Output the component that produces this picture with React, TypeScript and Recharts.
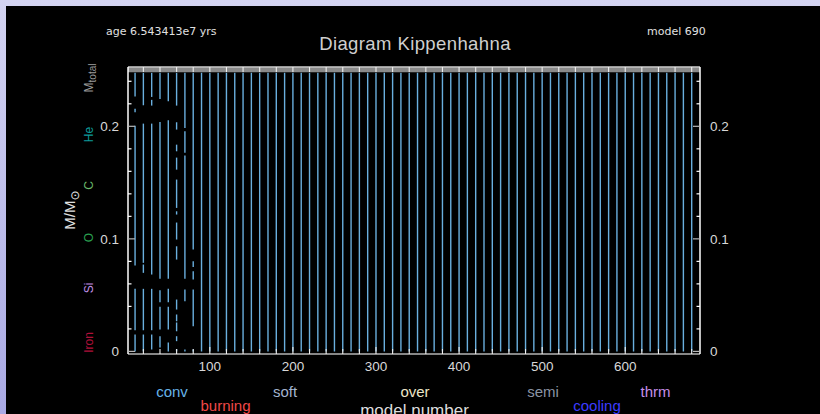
import React from 'react';
import { ComposedChart, XAxis, YAxis, Line, ReferenceLine } from 'recharts';

// model numbers of the convective columns
const modelNumbers = [
	10, 20, 30, 40, 50, 60, 70, 80, 90, 100, 110, 120, 130, 140, 150, 160, 170,
	180, 190, 200, 210, 220, 230, 240, 250, 260, 270, 280, 290, 300, 310, 320,
	330, 340, 350, 360, 370, 380, 390, 400, 410, 420, 430, 440, 450, 460, 470,
	480, 490, 500, 510, 520, 530, 540, 550, 560, 570, 580, 590, 600, 610, 620,
	630, 640, 650, 660, 670, 680,
];

const xTicks = [
	20, 40, 60, 80, 100, 120, 140, 160, 180, 200, 220, 240, 260, 280, 300, 320,
	340, 360, 380, 400, 420, 440, 460, 480, 500, 520, 540, 560, 580, 600, 620,
	640, 660, 680,
];
const yTicks = [0, 0.02, 0.04, 0.06, 0.08, 0.1, 0.12, 0.14, 0.16, 0.18, 0.2, 0.22, 0.24];

// M_total line across the whole run
const totalMass = [
	{ model: 1.5, m: 0.2502 },
	{ model: 690, m: 0.2502 },
];
const columnTop = 0.2475;

// convective zones [bottom, top] in M/Msun for the first models, where the columns break up
const zones10 = [[0.2266, 0.2475], [0.2124, 0.2157], [0.0763, 0.2006], [0.0188, 0.0556], [0, 0.015]];
const zones20 = [[0.2187, 0.2475], [0.0787, 0.2024], [0.0698, 0.0772], [0.0188, 0.0556], [0, 0.015]];
const zones30 = [[0.2261, 0.2475], [0.2184, 0.2235], [0.0683, 0.2024], [0.0188, 0.0556], [0.0017, 0.015]];
const zones40 = [[0.2243, 0.2475], [0.0645, 0.2039], [0.0437, 0.0544], [0.0194, 0.0396], [0.0035, 0.0135]];
const zones50 = [[0.2222, 0.2475], [0.0645, 0.2053], [0.0437, 0.0556], [0.0194, 0.0396], [0, 0.0079]];
const zones60 = [
	[0.2184, 0.2475], [0.1971, 0.2036], [0.1778, 0.1837], [0.1615, 0.1722], [0.1275, 0.1527],
	[0.1216, 0.1245], [0.0994, 0.1145], [0.0816, 0.0934], [0.0372, 0.0461], [0.0268, 0.0328],
	[0.0179, 0.0257], [0.0091, 0.0135], [0, 0.002],
];
const zones70 = [[0.1986, 0.2475], [0.1766, 0.1956], [0.0645, 0.174], [0.0446, 0.055], [0, 0.0017]];
const zones80 = [[0.0905, 0.2475], [0.0751, 0.0801], [0.0639, 0.0712], [0.0224, 0.055], [0, 0.0017]];

const brokenZones: Record<number, number[][]> = {
	10: zones10, 20: zones20, 30: zones30, 40: zones40,
	50: zones50, 60: zones60, 70: zones70, 80: zones80,
};

const legendTop = [
	{ name: 'conv', color: '#66b3e8' },
	{ name: 'soft', color: '#a3b4cf' },
	{ name: 'over', color: '#ece6c8' },
	{ name: 'semi', color: '#8a94a4' },
	{ name: 'thrm', color: '#c58fe8' },
];
const legendBottom = [
	{ name: 'burning', color: '#f04848' },
	{ name: 'cooling', color: '#3c3cff' },
];

const tickFont = 'Liberation Sans, Arial, sans-serif';
const isMajorY = (v: number) => Math.abs(v * 10 - Math.round(v * 10)) < 1e-6;

const BottomTick = (props: any) => {
	const { x, y, payload } = props;
	const major = payload.value % 100 === 0;
	return (
		<g>
			<line x1={x} y1={y} x2={x} y2={y - (major ? 7 : 5)} stroke="#f0f0f0" strokeWidth={1.1} />
			{major && (
				<text x={x} y={y + 17} textAnchor="middle" fill="#d8d8d8" fontSize={13.5} fontFamily={tickFont}>
					{payload.value}
				</text>
			)}
		</g>
	);
};

const TopTick = (props: any) => {
	const { x, y } = props;
	return <line x1={x} y1={y} x2={x} y2={y + 5} stroke="#f0f0f0" strokeWidth={1.1} />;
};

const LeftTick = (props: any) => {
	const { x, y, payload } = props;
	const major = isMajorY(payload.value);
	return (
		<g>
			<line x1={x} y1={y} x2={x + (major ? 7 : 3.5)} y2={y} stroke={major ? '#b8b8b8' : '#ffffff'} strokeWidth={1.2} />
			{major && (
				<text x={x - 9} y={y + 5} textAnchor="end" fill="#d8d8d8" fontSize={13.5} fontFamily={tickFont}>
					{String(Math.round(payload.value * 10) / 10)}
				</text>
			)}
		</g>
	);
};

const RightTick = (props: any) => {
	const { x, y, payload } = props;
	const major = isMajorY(payload.value);
	return (
		<g>
			<line x1={x} y1={y} x2={x - (major ? 7 : 3.5)} y2={y} stroke={major ? '#b8b8b8' : '#ffffff'} strokeWidth={1.2} />
			{major && (
				<text x={x + 10} y={y + 5} textAnchor="start" fill="#d8d8d8" fontSize={13.5} fontFamily={tickFont}>
					{String(Math.round(payload.value * 10) / 10)}
				</text>
			)}
		</g>
	);
};

const SideLabel = ({ x, y, color, size = 12, children }: any) => (
	<text
		x={x}
		y={y}
		transform={`rotate(-90 ${x} ${y})`}
		textAnchor="middle"
		fill={color}
		fontSize={size}
		fontFamily="Liberation Sans, DejaVu Sans, sans-serif"
	>
		{children}
	</text>
);

export default function App() {
	const segments = modelNumbers.flatMap((model) =>
		(brokenZones[model] ?? [[0, columnTop]]).map(([lo, hi]) => ({ model, lo, hi }))
	);

	return (
		<div
			style={{
				position: 'fixed',
				left: 0,
				top: 0,
				width: 820,
				height: 414,
				background: 'linear-gradient(to bottom, #d4d4f2, #a9a9e4)',
				overflow: 'hidden',
			}}
		>
			<div style={{ position: 'absolute', left: 6, top: 6, width: 814, height: 408, background: '#000' }} />
			<div style={{ position: 'absolute', left: 0, top: 0 }}>
				<ComposedChart width={820} height={414} margin={{ top: 37, right: 80, bottom: 30, left: 88 }}>
					<XAxis
						xAxisId="b"
						dataKey="model"
						type="number"
						domain={[1.5, 690]}
						allowDataOverflow
						ticks={xTicks}
						interval={0}
						tickSize={0}
						tickMargin={0}
						tickLine={false}
						tick={(p: any) => <BottomTick {...p} />}
						axisLine={{ stroke: '#b4b4b4', strokeWidth: 1.5 }}
						height={30}
					/>
					<XAxis
						xAxisId="t"
						orientation="top"
						dataKey="model"
						type="number"
						domain={[1.5, 690]}
						allowDataOverflow
						ticks={xTicks}
						interval={0}
						tickSize={0}
						tickMargin={0}
						tickLine={false}
						tick={(p: any) => <TopTick {...p} />}
						axisLine={{ stroke: '#d0d0d0', strokeWidth: 1.5 }}
						height={30}
					/>
					<YAxis
						yAxisId="l"
						type="number"
						domain={[-0.0023, 0.2527]}
						allowDataOverflow
						ticks={yTicks}
						interval={0}
						tickSize={0}
						tickMargin={0}
						tickLine={false}
						tick={(p: any) => <LeftTick {...p} />}
						axisLine={{ stroke: '#ffffff', strokeWidth: 1.5 }}
						width={40}
					/>
					<YAxis
						yAxisId="r"
						orientation="right"
						type="number"
						domain={[-0.0023, 0.2527]}
						allowDataOverflow
						ticks={yTicks}
						interval={0}
						tickSize={0}
						tickMargin={0}
						tickLine={false}
						tick={(p: any) => <RightTick {...p} />}
						axisLine={{ stroke: '#ffffff', strokeWidth: 1.5 }}
						width={40}
					/>
					{segments.map((s, i) => (
						<ReferenceLine
							key={i}
							xAxisId="b"
							yAxisId="l"
							ifOverflow="visible"
							segment={[{ x: s.model, y: s.lo }, { x: s.model, y: s.hi }]}
							stroke="#6aafde"
							strokeWidth={1.4}
						/>
					))}
					<Line
						xAxisId="b"
						yAxisId="l"
						data={totalMass}
						dataKey="m"
						stroke="#8a8a8a"
						strokeWidth={5}
						dot={false}
						isAnimationActive={false}
					/>
				</ComposedChart>
			</div>
			<svg width={820} height={414} style={{ position: 'absolute', left: 0, top: 0, pointerEvents: 'none' }}>
				<text x={106} y={35} fill="#e0e0e0" fontSize={11} fontFamily="DejaVu Sans, sans-serif">
					age 6.543413e7 yrs
				</text>
				<text x={647} y={35} fill="#e0e0e0" fontSize={11} fontFamily="DejaVu Sans, sans-serif">
					model 690
				</text>
				<text x={415} y={50} textAnchor="middle" fill="#cfcfcf" fontSize={18.5} fontFamily={tickFont} letterSpacing={0.4}>
					Diagram Kippenhahna
				</text>

				<SideLabel x={93} y={78} color="#9a9a9a">
					M<tspan fontSize={10} dy={3}>total</tspan>
				</SideLabel>
				<SideLabel x={93} y={134.5} color="#0d9a9a">He</SideLabel>
				<SideLabel x={93} y={185.5} color="#6ab86a">C</SideLabel>
				<SideLabel x={93} y={237.5} color="#2aa050">O</SideLabel>
				<SideLabel x={93} y={288} color="#c08fe6">Si</SideLabel>
				<SideLabel x={93} y={342.5} color="#b0103a">Iron</SideLabel>
				<SideLabel x={75} y={210} color="#e0e0e0" size={15}>
					M/M<tspan fontSize={12} dy={4}>⊙</tspan>
				</SideLabel>

				<text x={172} y={397} textAnchor="middle" fill={legendTop[0].color} fontSize={15} fontFamily={tickFont}>{legendTop[0].name}</text>
				<text x={285} y={397} textAnchor="middle" fill={legendTop[1].color} fontSize={15} fontFamily={tickFont}>{legendTop[1].name}</text>
				<text x={415} y={397} textAnchor="middle" fill={legendTop[2].color} fontSize={15} fontFamily={tickFont}>{legendTop[2].name}</text>
				<text x={543} y={397} textAnchor="middle" fill={legendTop[3].color} fontSize={15} fontFamily={tickFont}>{legendTop[3].name}</text>
				<text x={655.5} y={397} textAnchor="middle" fill={legendTop[4].color} fontSize={15} fontFamily={tickFont}>{legendTop[4].name}</text>
				<text x={225.5} y={411} textAnchor="middle" fill={legendBottom[0].color} fontSize={15} fontFamily={tickFont}>{legendBottom[0].name}</text>
				<text x={597} y={411} textAnchor="middle" fill={legendBottom[1].color} fontSize={15} fontFamily={tickFont}>{legendBottom[1].name}</text>
				<text x={414.5} y={416} textAnchor="middle" fill="#dddddd" fontSize={17} fontFamily={tickFont}>
					model number
				</text>
			</svg>
		</div>
	);
}
